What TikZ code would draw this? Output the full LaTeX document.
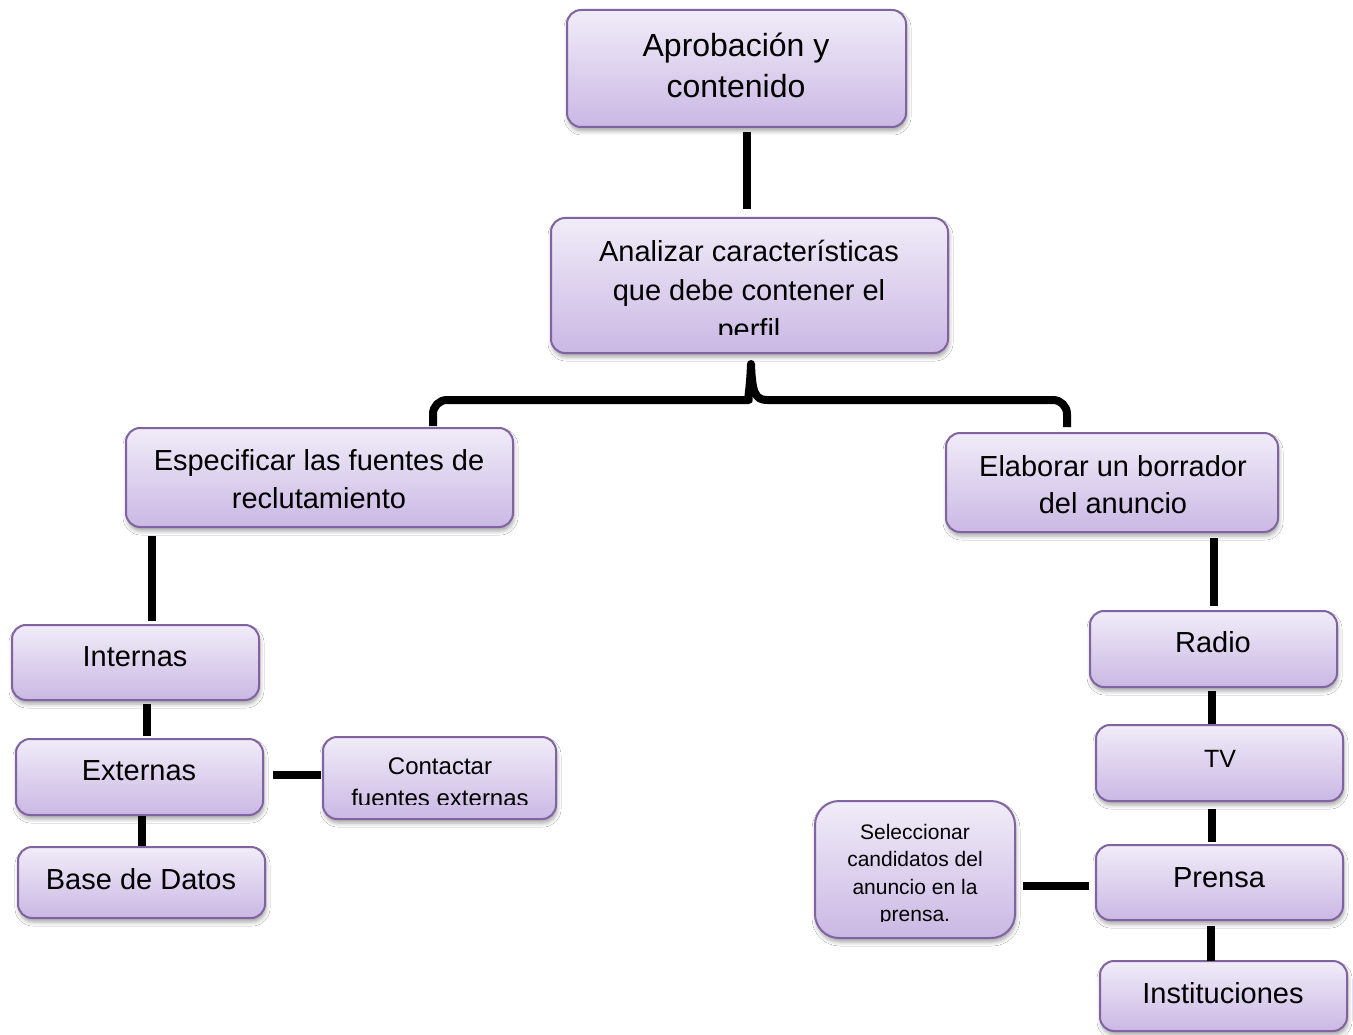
\documentclass[tikz,border=0pt]{standalone}
\usepackage{fontspec}
\setmainfont{Liberation Sans}
\usetikzlibrary{calc,shadows.blur}

\definecolor{boxtop}{RGB}{241,236,248}
\definecolor{boxbot}{RGB}{202,184,228}
\definecolor{boxline}{RGB}{128,100,162}

\newcommand\boxfont[2]{\fontsize{#1}{#2}\selectfont}

\tikzset{
  box/.style={draw=boxline, line width=2pt, rounded corners=14pt,
    top color=boxtop, bottom color=boxbot, inner sep=0pt,
    blur shadow={shadow xshift=1pt, shadow yshift=-4pt,
      shadow blur radius=4pt, shadow opacity=35}},
  label/.style={inner sep=0pt, align=center, anchor=north, text=black},
  conn/.style={line width=8pt, black},
}

\begin{document}
\begin{tikzpicture}[x=1pt, y=-1pt]
\useasboundingbox (0,0) rectangle (1353,1035);
\fill[white] (0,0) rectangle (1353,1035);

% ---- boxes ----
\node[box, minimum width=339pt, minimum height=117pt] (aprob)   at (736.5,68.5) {};
\node[box, minimum width=397pt, minimum height=135pt] (anal)    at (749.5,285.5) {};
\node[box, minimum width=387pt, minimum height=99pt]  (espec)   at (319.5,477.5) {};
\node[box, minimum width=332pt, minimum height=99pt]  (elab)    at (1112,482.5) {};
\node[box, minimum width=247pt, minimum height=75pt]  (intern)  at (135.5,662.5) {};
\node[box, minimum width=247pt, minimum height=76pt]  (extern)  at (139.5,777) {};
\node[box, minimum width=233pt, minimum height=82pt]  (contact) at (439.5,778) {};
\node[box, minimum width=247pt, minimum height=71pt]  (base)    at (141.5,882.5) {};
\node[box, minimum width=247pt, minimum height=76pt]  (radio)   at (1213.5,649) {};
\node[box, minimum width=247pt, minimum height=76pt]  (tv)      at (1219.5,763) {};
\node[box, minimum width=247pt, minimum height=75pt]  (prensa)  at (1219.5,882.5) {};
\node[box, minimum width=247pt, minimum height=70pt]  (instit)  at (1223.5,996) {};
\node[box, rounded corners=24pt, minimum width=200pt, minimum height=137pt] (selec) at (915,869.5) {};

% ---- box texts ----
\node[label, font=\boxfont{32}{41}] (aprobt) at (736,27.3)
  {\strut Aprobación y\\contenido};
\begin{scope}
  \clip (551,218) rectangle (948,334);
  \node[label, font=\boxfont{29}{39}] (analt) at (749,233.7)
    {\strut Analizar características\\que debe contener el\\perfil};
\end{scope}
\node[label, font=\boxfont{29}{37.5}] (espect) at (319,444.5)
  {\strut Especificar las fuentes de\\reclutamiento};
\node[label, font=\boxfont{29}{36.5}] (elabt) at (1113,451.2)
  {\strut Elaborar un borrador\\del anuncio};
\node[label, font=\boxfont{29}{36}] (internt) at (135,641.5) {\strut Internas};
\node[label, font=\boxfont{29}{36}] (externt) at (139,754.8) {\strut Externas};
\node[label, font=\boxfont{29}{36}] (baset) at (141,863.8) {\strut Base de Datos};
\begin{scope}
  \clip (323,737) rectangle (556,804);
  \node[label, font=\boxfont{24}{32}] (contactt) at (440,751.6)
    {\strut Contactar\\fuentes externas};
\end{scope}
\node[label, font=\boxfont{29}{36}] (radiot) at (1213,627.5) {\strut Radio};
\node[label, font=\boxfont{25}{30}] (tvt) at (1220,746.7) {\strut TV};
\node[label, font=\boxfont{29}{36}] (prensat) at (1219,861.8) {\strut Prensa};
\node[label, font=\boxfont{29}{36}] (institt) at (1223,977.8) {\strut Instituciones};
\begin{scope}
  \clip (815,801) rectangle (1015,921);
  \node[label, font=\boxfont{21}{27.5}] (select) at (915,819.75)
    {\strut Seleccionar\\candidatos del\\anuncio en la\\prensa.};
\end{scope}

% ---- connectors ----
\draw[conn] ($(aprob.south)+(10,4)$) -- ($(anal.north)+(-3,-8)$);

% brace from the analysis box to its two branches
\coordinate (tip) at ($(anal.south)+(1.5,10)$);
\coordinate (bl)  at ($(espec.north)+(113.5,-1)$);
\coordinate (br)  at ($(elab.north)+(-45,-5)$);
\coordinate (ml)  at ($(tip)+(-16,36)$);
\coordinate (mr)  at ($(tip)+(16,36)$);
\draw[conn, line join=round]
  [rounded corners=14pt] (bl) |- (ml)
  [sharp corners] .. controls ($(tip)+(-4,36)$) and ($(tip)+(-1,28)$) .. (tip)
  .. controls ($(tip)+(1,28)$) and ($(tip)+(4,36)$) .. (mr)
  [rounded corners=14pt] -| (br);

\draw[conn] ($(espec.south)+(-167.5,8)$) -- ($(intern.north)+(16.5,-3)$);
\draw[conn] ($(intern.south)+(11.5,3)$) -- ($(extern.north)+(7.5,-2)$);
\draw[conn] ($(extern.south)+(2.5,0)$) -- ($(base.north)+(0.5,0)$);
\draw[conn] ($(extern.east)+(9,-2)$) -- ($(contact.west)+(-1,-3)$);

\draw[conn] ($(elab.south)+(102,5)$) -- ($(radio.north)+(0.5,-4)$);
\draw[conn] ($(radio.south)+(-1.5,3)$) -- ($(tv.north)+(-7.5,0)$);
\draw[conn] ($(tv.south)+(-7.5,7)$) -- ($(prensa.north)+(-7.5,-2)$);
\draw[conn] ($(prensa.south)+(-8.5,5)$) -- ($(instit.north)+(-12.5,1)$);
\draw[conn] ($(selec.east)+(7,16.5)$) -- ($(prensa.west)+(-6,3.5)$);
\end{tikzpicture}
\end{document}
